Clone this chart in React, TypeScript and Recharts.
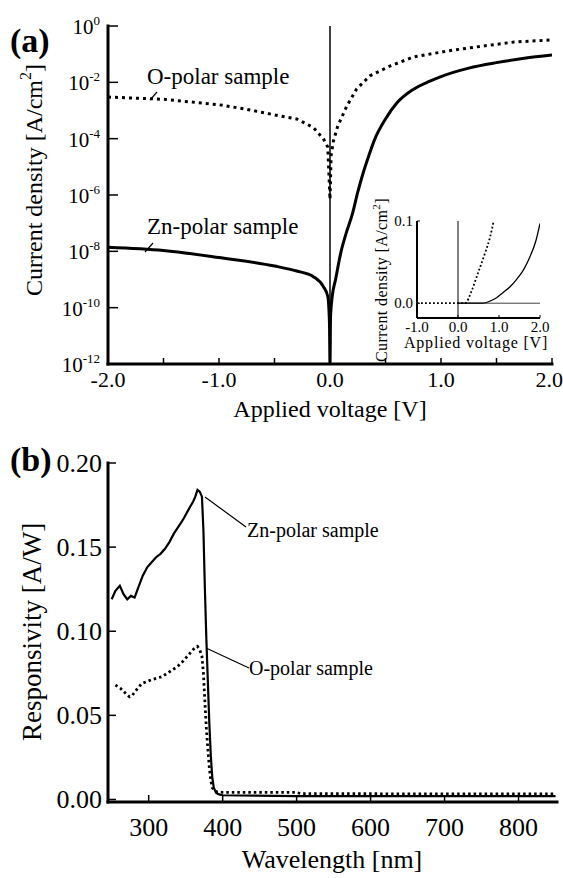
import React from "react";
import { LineChart, Line, XAxis, YAxis, ReferenceLine } from "recharts";

const SERIF = "Liberation Serif, Times New Roman, DejaVu Serif, serif";
const INK = "#000";

// (a) current density vs applied voltage, log scale [A/cm2]
const voltZn = [-2.0, -1.5, -1.0, -0.5, -0.3, -0.15, -0.06, -0.02, -0.005, 0, 0.005, 0.02, 0.05, 0.1, 0.15, 0.2, 0.25, 0.3, 0.35, 0.4, 0.5, 0.6, 0.75, 0.9, 1.0, 1.25, 1.5, 1.75, 2.0];
const densZn = [1.4e-8, 1.07e-8, 6.0e-9, 3.0e-9, 2.0e-9, 1.26e-9, 5.6e-10, 2.5e-10, 3.0e-11, 1e-12, 5e-11, 2.5e-10, 1.0e-9, 1.0e-8, 5.0e-8, 2.0e-7, 1.26e-6, 6.3e-6, 2.5e-5, 8.9e-5, 5.0e-4, 1.8e-3, 5.6e-3, 1.1e-2, 1.6e-2, 3.2e-2, 5.0e-2, 7.1e-2, 9.3e-2];
const voltO = [-2.0, -1.5, -1.0, -0.75, -0.5, -0.3, -0.15, -0.06, -0.02, 0, 0.01, 0.03, 0.07, 0.15, 0.24, 0.36, 0.54, 0.75, 1.06, 1.36, 1.66, 2.0];
const densO = [3.0e-3, 2.5e-3, 1.6e-3, 1.1e-3, 7.0e-4, 5.0e-4, 2.5e-4, 1.0e-4, 5.0e-5, 7.0e-7, 2.5e-5, 8.0e-5, 2.8e-4, 1.4e-3, 5.8e-3, 1.7e-2, 3.8e-2, 7.9e-2, 1.3e-1, 1.9e-1, 2.7e-1, 3.2e-1];
const voltTicks = [-2, -1.5, -1, -0.5, 0, 0.5, 1, 1.5, 2];
const decadeTicks = [1e-12, 1e-10, 1e-8, 1e-6, 1e-4, 1e-2, 1];

// (a) inset, linear scale
const insetVoltO = [-1.0, 0.0, 0.17, 0.34, 0.49, 0.66, 0.78, 0.87];
const insetDensO = [0, 0, 0, 0.016, 0.037, 0.061, 0.08, 0.1];
const insetVoltZn = [0.0, 0.6, 0.8, 0.95, 1.1, 1.27, 1.43, 1.59, 1.75, 1.9, 2.0];
const insetDensZn = [0, 0, 0.003, 0.007, 0.013, 0.02, 0.029, 0.04, 0.056, 0.076, 0.097];
const insetVoltTicks = [-1, 0, 1, 2];
const insetDensTicks = [0, 0.1];

// (b) responsivity [A/W] vs wavelength [nm]
const waveZn = [250, 255, 261, 266, 271, 276, 281, 286, 292, 298, 304, 310, 316, 322, 328, 334, 340, 346, 351, 356, 360, 363, 366, 369, 372, 374, 376, 378, 380, 382, 384, 386, 388, 391, 395, 400, 500, 600, 700, 800, 850];
const respZn = [0.119, 0.124, 0.127, 0.122, 0.119, 0.121, 0.12, 0.126, 0.133, 0.138, 0.141, 0.144, 0.146, 0.149, 0.153, 0.158, 0.162, 0.166, 0.17, 0.174, 0.177, 0.18, 0.184, 0.183, 0.18, 0.16, 0.125, 0.095, 0.07, 0.045, 0.026, 0.013, 0.007, 0.004, 0.003, 0.0025, 0.002, 0.002, 0.002, 0.002, 0.002];
const waveO = [255, 262, 269, 274, 278, 285, 291, 297, 303, 310, 318, 325, 332, 339, 346, 352, 358, 362, 366, 369, 372, 374, 376, 378, 380, 382, 384, 386, 389, 393, 400, 450, 500, 505, 600, 700, 800, 850];
const respO = [0.068, 0.066, 0.063, 0.061, 0.062, 0.066, 0.069, 0.07, 0.071, 0.072, 0.073, 0.075, 0.077, 0.079, 0.082, 0.085, 0.088, 0.09, 0.091, 0.089, 0.085, 0.075, 0.058, 0.042, 0.03, 0.019, 0.011, 0.007, 0.005, 0.0045, 0.0042, 0.0042, 0.0042, 0.0035, 0.0034, 0.0033, 0.0033, 0.0033];
const waveTicks = [300, 400, 500, 600, 700, 800];
const respTicks = [0, 0.05, 0.1, 0.15, 0.2];

const zip = (xs: number[], ys: number[]) => xs.map((x, i) => ({ x, y: ys[i] }));

type Side = "bottom" | "top" | "left" | "right";
interface TickCfg {
  side: Side;
  len: number;
  width?: number;
  text?: (v: number) => React.ReactNode;
  size?: number;
  dx?: number;
  dy?: number;
  lastEnd?: number; // right-align the last label so it stays on the page
}

const DIR: Record<Side, [number, number]> = {
  bottom: [0, -1],
  top: [0, 1],
  left: [1, 0],
  right: [-1, 0],
};

// inward tick mark plus optional label
const tickOf = (cfg: TickCfg) => (p: any) => {
  const { x, y, index, visibleTicksCount } = p;
  const v = p.payload.value as number;
  const [ux, uy] = DIR[cfg.side];
  const t = cfg.text ? cfg.text(v) : null;
  const isLast = cfg.lastEnd !== undefined && index === visibleTicksCount - 1;
  const anchor = cfg.side === "left" || isLast ? "end" : "middle";
  return (
    <g>
      <line x1={x} y1={y} x2={x + ux * cfg.len} y2={y + uy * cfg.len} stroke={INK} strokeWidth={cfg.width ?? 1.5} />
      {t !== null && (
        <text
          x={x + (isLast ? cfg.lastEnd! : cfg.dx ?? 0)}
          y={y + (cfg.dy ?? 0)}
          textAnchor={anchor}
          fill={INK}
          style={{ fontFamily: SERIF, fontSize: cfg.size }}
        >
          {t}
        </text>
      )}
    </g>
  );
};

const powerLabel = (v: number) => (
  <>
    <tspan>10</tspan>
    <tspan dy={-9} style={{ fontSize: 13 }}>{`${Math.round(Math.log10(v))}`}</tspan>
  </>
);

const frame = { stroke: INK, strokeWidth: 3, strokeLinecap: "square" as const };

function PanelA() {
  return (
    <LineChart width={563} height={430} margin={{ top: 26, right: 11, bottom: 0, left: 0 }}>
      <XAxis
        dataKey="x"
        type="number"
        domain={[-2, 2]}
        allowDataOverflow
        ticks={voltTicks}
        interval={0}
        height={66}
        tickSize={0}
        tickMargin={0}
        tickLine={false}
        axisLine={frame}
        tick={tickOf({ side: "bottom", len: 6, size: 22, dy: 23, lastEnd: 11, text: (v) => (Number.isInteger(v) ? v.toFixed(1) : null) })}
      />
      <XAxis
        xAxisId="top"
        orientation="top"
        dataKey="x"
        type="number"
        domain={[-2, 2]}
        allowDataOverflow
        ticks={voltTicks}
        interval={0}
        height={0}
        tickSize={0}
        tickMargin={0}
        tickLine={false}
        axisLine={frame}
        tick={tickOf({ side: "top", len: 6 })}
      />
      <YAxis
        type="number"
        scale="log"
        domain={[1e-12, 1]}
        allowDataOverflow
        ticks={decadeTicks}
        interval={0}
        width={108}
        tickSize={0}
        tickMargin={0}
        tickLine={false}
        axisLine={frame}
        tick={tickOf({ side: "left", len: 10, size: 21, dx: -8, dy: 8, text: powerLabel })}
      />
      <YAxis
        yAxisId="right"
        orientation="right"
        type="number"
        scale="log"
        domain={[1e-12, 1]}
        allowDataOverflow
        ticks={decadeTicks}
        interval={0}
        width={0}
        tickSize={0}
        tickMargin={0}
        tickLine={false}
        axisLine={frame}
        tick={tickOf({ side: "right", len: 9 })}
      />
      <ReferenceLine x={0} stroke={INK} strokeWidth={1.5} />
      <Line data={zip(voltO, densO)} dataKey="y" type="linear" dot={false} stroke={INK} strokeWidth={3} strokeDasharray="3 4" isAnimationActive={false} />
      <Line data={zip(voltZn, densZn)} dataKey="y" type="monotone" dot={false} stroke={INK} strokeWidth={3} isAnimationActive={false} />
    </LineChart>
  );
}

function InsetA() {
  return (
    <LineChart width={180} height={147} margin={{ top: 10, right: 12, bottom: 0, left: 0 }}>
      <XAxis
        dataKey="x"
        type="number"
        domain={[-1, 2]}
        allowDataOverflow
        ticks={insetVoltTicks}
        interval={0}
        height={40}
        tickSize={0}
        tickMargin={0}
        tickLine={false}
        axisLine={{ stroke: INK, strokeWidth: 2 }}
        tick={tickOf({ side: "bottom", len: 3, width: 1, size: 15, dy: 14, text: (v) => v.toFixed(1) })}
      />
      <XAxis xAxisId="top" orientation="top" dataKey="x" type="number" domain={[-1, 2]} allowDataOverflow ticks={insetVoltTicks} interval={0} height={0} tickSize={0} tickMargin={0} tickLine={false} axisLine={{ stroke: INK, strokeWidth: 2 }} tick={tickOf({ side: "top", len: 3, width: 1 })} />
      <YAxis
        type="number"
        domain={[-0.018, 0.1]}
        allowDataOverflow
        ticks={insetDensTicks}
        interval={0}
        width={45}
        tickSize={0}
        tickMargin={0}
        tickLine={false}
        axisLine={{ stroke: INK, strokeWidth: 2 }}
        tick={tickOf({ side: "left", len: 3, width: 1, size: 15, dx: -4, dy: 5, text: (v) => v.toFixed(1) })}
      />
      <YAxis yAxisId="right" orientation="right" type="number" domain={[-0.018, 0.1]} allowDataOverflow ticks={insetDensTicks} interval={0} width={0} tickSize={0} tickMargin={0} tickLine={false} axisLine={{ stroke: INK, strokeWidth: 2 }} tick={tickOf({ side: "right", len: 3, width: 1 })} />
      <ReferenceLine x={0} stroke={INK} strokeWidth={1} />
      <ReferenceLine segment={[{ x: 0, y: 0 }, { x: 2, y: 0 }]} stroke="#444" strokeWidth={1} />
      <Line data={zip(insetVoltO, insetDensO)} dataKey="y" type="monotone" dot={false} stroke={INK} strokeWidth={1.8} strokeDasharray="1.8 2.2" isAnimationActive={false} />
      <Line data={zip(insetVoltZn, insetDensZn)} dataKey="y" type="monotone" dot={false} stroke={INK} strokeWidth={1.3} isAnimationActive={false} />
    </LineChart>
  );
}

function PanelB() {
  return (
    <LineChart width={563} height={438} margin={{ top: 23, right: 6, bottom: 0, left: 0 }}>
      <XAxis
        dataKey="x"
        type="number"
        domain={[245, 852]}
        allowDataOverflow
        ticks={waveTicks}
        interval={0}
        height={76}
        tickSize={0}
        tickMargin={0}
        tickLine={false}
        axisLine={frame}
        tick={tickOf({ side: "bottom", len: 7, size: 26, dy: 34, text: (v) => String(v) })}
      />
      <XAxis xAxisId="top" orientation="top" dataKey="x" type="number" domain={[245, 852]} allowDataOverflow ticks={waveTicks} interval={0} height={0} tickSize={0} tickMargin={0} tickLine={false} axisLine={frame} tick={tickOf({ side: "top", len: 6 })} />
      <YAxis
        type="number"
        domain={[-0.0015, 0.2]}
        allowDataOverflow
        ticks={respTicks}
        interval={0}
        width={108}
        tickSize={0}
        tickMargin={0}
        tickLine={false}
        axisLine={frame}
        tick={tickOf({ side: "left", len: 8, size: 26, dx: -6, dy: 9, text: (v) => v.toFixed(2) })}
      />
      <YAxis yAxisId="right" orientation="right" type="number" domain={[-0.0015, 0.2]} allowDataOverflow ticks={respTicks} interval={0} width={0} tickSize={0} tickMargin={0} tickLine={false} axisLine={frame} tick={tickOf({ side: "right", len: 7 })} />
      <Line data={zip(waveO, respO)} dataKey="y" type="linear" dot={false} stroke={INK} strokeWidth={2.8} strokeDasharray="2.5 3" isAnimationActive={false} />
      <Line data={zip(waveZn, respZn)} dataKey="y" type="linear" dot={false} stroke={INK} strokeWidth={2.2} isAnimationActive={false} />
    </LineChart>
  );
}

// panel letters, axis titles and series callouts
function Annotations() {
  const f = (size: number, extra: React.CSSProperties = {}): React.CSSProperties => ({ fontFamily: SERIF, fontSize: size, ...extra });
  return (
    <svg width={563} height={878} style={{ position: "absolute", left: 0, top: 0, pointerEvents: "none" }} fill={INK}>
      <text x={10} y={52} style={f(34, { fontWeight: "bold" })}>(a)</text>
      <text x={10} y={471} style={f(34, { fontWeight: "bold" })}>(b)</text>

      <text transform="translate(42,180) rotate(-90)" textAnchor="middle" style={f(24)}>
        Current density [A/cm<tspan dy={-11} style={f(16)}>2</tspan><tspan dy={11}>]</tspan>
      </text>
      <text x={330} y={417} textAnchor="middle" style={f(24)}>Applied voltage [V]</text>

      <text x={147} y={84} style={f(23)}>O-polar sample</text>
      <line x1={150} y1={100} x2={157} y2={92} stroke={INK} strokeWidth={1.2} />
      <text x={147} y={234} style={f(23)}>Zn-polar sample</text>
      <line x1={145} y1={252} x2={153} y2={243} stroke={INK} strokeWidth={1.2} />

      <text transform="translate(387,280) rotate(-90)" textAnchor="middle" style={f(16, { letterSpacing: 0.4 })}>
        Current density  [A/cm<tspan dy={-7} style={f(11)}>2</tspan><tspan dy={7}>]</tspan>
      </text>
      <text x={476} y={348} textAnchor="middle" style={f(16, { letterSpacing: 0.8 })}>Applied voltage [V]</text>

      <text transform="translate(41,632) rotate(-90)" textAnchor="middle" style={f(27)}>Responsivity [A/W]</text>
      <text x={332} y={868} textAnchor="middle" style={f(26)}>Wavelength [nm]</text>

      <text x={247} y={537} style={f(20)}>Zn-polar sample</text>
      <line x1={205} y1={497} x2={246} y2={527} stroke={INK} strokeWidth={1.2} />
      <text x={249} y={675} style={f(20)}>O-polar sample</text>
      <line x1={206} y1={648} x2={249} y2={668} stroke={INK} strokeWidth={1.2} />
    </svg>
  );
}

export default function App() {
  return (
    <div style={{ position: "absolute", left: 0, top: 0, width: 563, height: 878, background: "#fff", overflow: "hidden", fontFamily: SERIF }}>
      <div style={{ position: "absolute", left: 0, top: 0 }}>
        <PanelA />
      </div>
      <div style={{ position: "absolute", left: 372, top: 211 }}>
        <InsetA />
      </div>
      <div style={{ position: "absolute", left: 0, top: 440 }}>
        <PanelB />
      </div>
      <Annotations />
    </div>
  );
}
